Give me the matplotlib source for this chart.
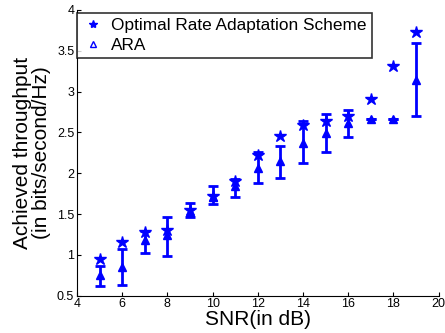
import matplotlib
matplotlib.use("Agg")
import matplotlib.pyplot as plt
import numpy as np
from matplotlib.lines import Line2D

plt.rcParams['font.family'] = ['Liberation Sans', 'DejaVu Sans']

snr = [5, 6, 7, 8, 9, 10, 11, 12, 13, 14, 15, 16, 17, 18, 19]
optimal = [0.955, 1.157, 1.28, 1.31, 1.545, 1.727, 1.91, 2.22, 2.457, 2.59, 2.645, 2.70, 2.914, 3.32, 3.73]
ara = [0.756, 0.85, 1.18, 1.24, 1.53, 1.71, 1.84, 2.07, 2.15, 2.37, 2.49, 2.61, 2.67, 2.67, 3.14]
ara_upper = [0.868, 1.066, 1.29, 1.46, 1.636, 1.84, 1.93, 2.26, 2.34, 2.64, 2.73, 2.77, 2.67, 2.67, 3.59]
ara_lower = [0.62, 0.636, 1.025, 0.99, 1.47, 1.62, 1.707, 1.88, 1.94, 2.12, 2.256, 2.44, 2.67, 2.67, 2.70]

x_ticks = [4, 6, 8, 10, 12, 14, 16, 18, 20]
y_ticks = [0.5, 1, 1.5, 2, 2.5, 3, 3.5, 4]
y_tick_labels = ['0.5', '1', '1.5', '2', '2.5', '3', '3.5', '4']

fig = plt.figure(figsize=(4.45, 3.33), dpi=100)
ax = fig.add_axes([77/445, 1 - 295.7/333, (438.7-77)/445, (295.7-10)/333])

ara_a = np.array(ara)
err = [ara_a - np.array(ara_lower), np.array(ara_upper) - ara_a]
ax.plot(snr, optimal, linestyle='none', marker='*', color='#0000ff', markersize=9,
        label='Optimal Rate Adaptation Scheme')
ax.errorbar(snr, ara, yerr=err, fmt='^', color='#0000ff', ecolor='#0000ff',
            elinewidth=2, capsize=3.5, capthick=2, markersize=6,
            label='ARA')

ax.set_xlim(4, 20)
ax.set_ylim(0.5, 4)
ax.set_xticks(x_ticks)
ax.set_yticks(y_ticks)
ax.set_yticklabels(y_tick_labels)
ax.tick_params(direction='in', labelsize=9, length=3, pad=2)
ax.spines['top'].set_visible(False)
ax.spines['right'].set_visible(False)

ax.set_xlabel('SNR(in dB)', fontsize=15, labelpad=0)
ax.set_ylabel('Achieved throughput\n(in bits/second/Hz)', fontsize=15, labelpad=4,
              linespacing=1.0)

h1 = Line2D([], [], linestyle='none', marker='*', color='#0000ff', markersize=6)
h2 = Line2D([], [], linestyle='none', marker='^', color='#0000ff', markersize=4,
            markerfacecolor='none')
leg = ax.legend([h1, h2], ['Optimal Rate Adaptation Scheme', 'ARA'],
                loc='upper left', bbox_to_anchor=(0.0, 0.99), fontsize=12.4,
                frameon=True, fancybox=False, edgecolor='black',
                borderpad=0.3, labelspacing=0.3, handlelength=1.2,
                handletextpad=0.5, borderaxespad=0)
leg.get_frame().set_linewidth(1.2)

fig.savefig('out.png', dpi=100)
